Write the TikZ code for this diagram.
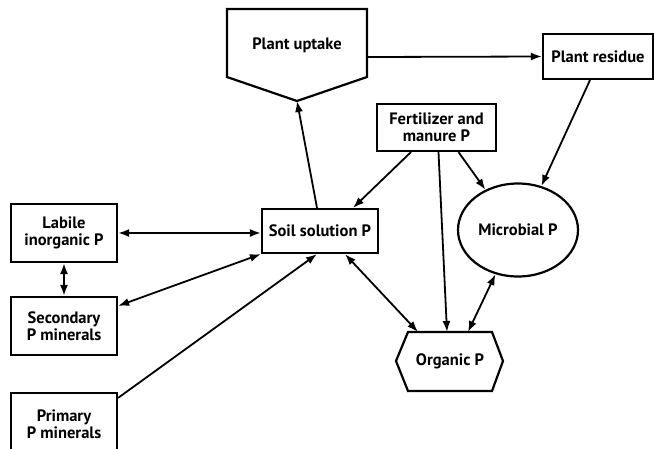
\documentclass[tikz,border=0pt]{standalone}
\usepackage{fontspec}
\setmainfont{PT Sans}
\usetikzlibrary{positioning,shapes.geometric,arrows.meta}

\tikzset{
    box/.style={draw, line width=2.2pt, align=center, inner sep=2pt,
        font=\bfseries\fontsize{16.5}{17}\selectfont},
    label/.style={align=center, font=\bfseries\fontsize{16.5}{17}\selectfont},
    flow/.style={line width=1.8pt, -{Latex[length=11pt,width=8pt]}},
    both/.style={line width=1.8pt, {Latex[length=11pt,width=8pt]}-{Latex[length=11pt,width=8pt]}}
}

\begin{document}
\begin{tikzpicture}[x=1pt,y=-1pt]

        \useasboundingbox (0,0) rectangle (654,448);

        \coordinate (uptip) at (297,101);
        \coordinate (upright) at (367,57);
        \coordinate (orgA) at (418,332);
        \coordinate (orgB) at (447,332);
        \coordinate (orgC) at (468,332);

        % shapes that are not plain boxes
        \path[draw, line width=2.2pt, line join=miter] (227,9) -- (367,9) -- (367,77) -- (uptip) -- (227,77) -- cycle;
        \node[label] (uptake) at (297,45) {Plant uptake};

        \path[draw, line width=2.2pt] (408,332) -- (492,332) -- (503,361) -- (492,391) -- (408,391) -- (396,361) -- cycle;
        \node[label] (org) at (450,361) {Organic P};

        \node[box, ellipse, minimum width=120pt, minimum height=93pt, inner sep=0pt] (micro) at (518,230) {Microbial P};

        \node[box, minimum width=110pt, minimum height=45pt] (residue) at (598,56.5) {Plant residue};
        \node[box, minimum width=119pt, minimum height=47pt] (fert) at (436.5,127.5) {Fertilizer and\\manure P};
        \node[box, minimum width=116pt, minimum height=44pt] (soil) at (320,231) {Soil solution P};
        \node[box, minimum width=106pt, minimum height=58pt] (labile) at (64,233) {Labile\\inorganic P};
        \node[box, minimum width=106pt, minimum height=58pt] (second) at (64,326) {Secondary\\P minerals};
        \node[box, minimum width=106pt, minimum height=62pt] (prim) at (64,424) {Primary\\P minerals};

        \draw[flow] (upright) -- (residue.west);
        \draw[flow] ([xshift=-3pt]soil.north) -- (uptip);
        \draw[flow] ([xshift=-8pt]residue.south) -- (micro.62);
        \draw[flow] (fert) -- ([xshift=33pt]soil.north);
        \draw[flow] ([xshift=2pt]fert.south) -- (orgB);
        \draw[flow] ([xshift=22pt]fert.south) -- (micro.129);

        \draw[both] (labile.east) -- (labile.east -| soil.west);
        \draw[both] (labile) -- (second);
        \draw[both] (soil.south west) -- ([yshift=-10pt]second.north east);
        \draw[flow] ([yshift=-6pt]prim.north east) -- ([xshift=-3pt]soil.south);
        \draw[both] ([xshift=25pt]soil.south) -- (orgA);
        \draw[both] (micro.243) -- (orgC);

    \end{tikzpicture}
\end{document}
